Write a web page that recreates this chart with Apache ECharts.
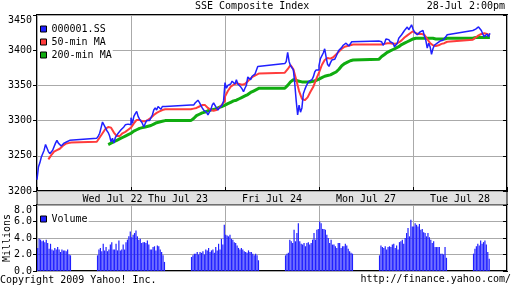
<!DOCTYPE html>
<html><head><meta charset="utf-8">
<script src="https://cdn.jsdelivr.net/npm/echarts@6/dist/echarts.min.js"></script>
<style>html,body{margin:0;padding:0;background:#fff}#c{width:512px;height:288px}</style>
</head><body><div id="c"></div>
<script>
// ---- data ----
const days = ['Wed Jul 22','Thu Jul 23','Fri Jul 24','Mon Jul 27','Tue Jul 28'];
const priceTicks = [3200, 3250, 3300, 3350, 3400, 3450];
const volumeTicks = [0, 2, 4, 6, 8];

// 000001.SS, 5-minute points: 25 morning (9:30-11:30) then afternoon (13:00-15:00)
const price22 = [3216,3234,3240,3248,3250,3258,3266,3264,3256,3253,3254,3258,3260,3268,3272,3268,3266,3264,3262,3268,3268,3270,3270,3272,3273,
                 3275,3278,3282,3290,3298,3296,3290,3286,3283,3278,3270,3275,3268,3276,3279,3282,3284,3287,3289,3291,3294,3296,3295,3293,3294];
const price23 = [3304,3296,3306,3310,3313,3306,3302,3300,3296,3291,3296,3300,3298,3300,3304,3308,3315,3318,3315,3320,3318,3316,3320,3320,3320,
                 3322,3324,3322,3325,3324,3329,3326,3322,3318,3315,3316,3312,3308,3312,3315,3322,3325,3324,3318,3315,3318,3316,3322,3328,3330];
const price24 = [3354,3346,3350,3349,3352,3356,3354,3352,3358,3352,3350,3348,3345,3341,3346,3350,3362,3361,3358,3363,3364,3366,3368,3377,3379,
                 3381,3384,3397,3384,3378,3376,3372,3352,3328,3308,3322,3312,3318,3338,3344,3349,3353,3356,3355,3358,3362,3369,3372,3371,3372];
const price27 = [3378,3388,3386,3396,3402,3390,3380,3377,3382,3386,3388,3387,3391,3396,3400,3402,3404,3407,3405,3410,3408,3406,3408,3412,3412,
                 3413,3414,3412,3407,3410,3416,3417,3415,3412,3414,3410,3405,3403,3410,3417,3419,3422,3424,3428,3430,3433,3429,3428,3436,3430];
const price28 = [3432,3426,3425,3422,3424,3426,3428,3428,3420,3414,3403,3410,3405,3394,3402,3407,3409,3410,3408,3413,3415,3414,3416,3419,3422,
                 3428,3428,3430,3432,3433,3431,3428,3423,3419,3417,3423,3419,3424];

// 50-min MA, 10-minute points: 13 morning then 13 afternoon
const ma50_22 = [null,null,null,null,3245,3251,3256,3258,3260,3264,3267,3268,3269, 3270,3276,3282,3288,3291,3290,3283,3278,3278,3282,3284,3287,3290];
const ma50_23 = [3290,3296,3301,3301,3299,3299,3301,3304,3308,3311,3313,3315,3316, 3316,3317,3318,3320,3322,3322,3318,3315,3314,3315,3318,3323,3328];
const ma50_24 = [3334,3342,3348,3351,3353,3352,3351,3352,3356,3360,3363,3365,3367, 3368,3373,3379,3373,3358,3342,3331,3329,3333,3341,3348,3359,3368];
const ma50_27 = [3368,3379,3386,3389,3388,3390,3394,3398,3402,3405,3406,3407,3408, 3408,3408,3409,3410,3410,3409,3409,3411,3414,3418,3421,3424,3427];
const ma50_28 = [3426,3424,3423,3423,3422,3416,3410,3407,3406,3407,3409,3410,3412, 3415,3418,3421,3423,3424,3423,3421];

// 200-min MA, 10-minute points
const ma200_22 = [null,null,null,null,null,null,null,null,null,null,null,null,null, null,null,null,null,3266,3268,3270,3272,3274,3276,3278,3280,3282];
const ma200_23 = [3283,3285,3287,3289,3290,3291,3292,3293,3295,3297,3298,3299,3300, 3300,3303,3307,3309,3311,3312,3314,3315,3316,3317,3319,3320,3322];
const ma200_24 = [3322,3324,3326,3328,3329,3331,3333,3335,3337,3340,3342,3344,3346, 3346,3350,3355,3358,3357,3356,3355,3355,3355,3355,3356,3357,3359];
const ma200_27 = [3359,3361,3363,3364,3365,3367,3369,3373,3378,3381,3383,3385,3386, 3387,3391,3394,3397,3399,3401,3403,3405,3408,3410,3412,3414,3416];
const ma200_28 = [3417,3417,3417,3417,3417,3417,3417,3417,3416,3416,3416,3416,3417, 3417,3418,3418,3418,3418,3418,3418];

// Volume (millions), 5-minute bars: 24 morning then 24 afternoon
const vol22 = [2.8,3.9,3.8,3.6,3.7,3.5,3.8,3.4,2.7,3.3,2.6,2.5,2.8,2.6,2.9,2.6,2.3,2.6,2.5,2.5,2.4,2.6,2.0,1.9,
               1.9,2.6,2.8,2.4,3.3,2.5,2.9,2.4,2.6,3.2,3.5,2.6,2.6,3.3,2.5,3.7,2.5,2.6,3.2,2.6,3.5,3.8,4.2,4.8];
const vol23 = [4.1,4.4,4.6,4.9,4.2,3.8,3.9,3.4,3.5,3.5,3.4,3.7,3.2,2.6,2.6,2.9,3.0,2.5,3.1,3.0,2.6,2.3,1.9,1.1,
               1.7,1.9,2.1,2.1,2.3,2.0,2.3,2.2,2.4,2.0,2.6,2.5,2.8,2.3,2.5,2.6,2.2,2.9,2.5,3.3,2.6,3.9,3.2,5.6];
const vol24 = [4.4,4.3,4.2,4.4,3.9,3.8,3.5,3.4,3.1,2.8,2.6,2.8,2.6,2.4,2.3,2.2,2.5,2.3,2.3,2.1,1.9,2.1,1.9,1.3,
               1.9,2.1,2.2,3.8,3.6,3.4,5.0,3.6,4.6,5.8,3.6,3.3,3.2,3.4,3.0,3.4,3.5,3.2,3.4,3.8,4.6,3.8,5.0,5.1];
const vol27 = [6.0,5.8,5.1,5.1,5.0,4.4,4.0,3.4,3.8,3.2,3.2,3.0,2.8,3.4,3.4,2.8,3.0,3.0,3.3,3.1,2.7,2.4,2.2,2.1,
               1.9,3.1,2.9,2.8,3.0,2.6,2.9,3.0,2.9,3.2,3.3,2.8,3.1,2.6,3.5,3.6,3.8,3.3,4.0,4.6,5.2,4.2,6.2,5.4];
const vol28 = [5.4,5.8,5.6,5.4,5.7,5.0,5.1,4.7,4.6,4.2,4.6,4.1,3.8,3.4,3.6,2.9,2.9,2.9,2.9,2.1,2.1,2.0,2.9,1.6,
               2.1,2.7,3.0,3.3,3.1,3.7,3.3,3.5,3.7,3.2,2.3,1.5];

// ---- time model: minutes from 9:30 within a 330-minute day axis (lunch 11:30-13:00 kept on axis) ----
const DAY = 330, PM_START = 210;
function build(arrs, step, perSession, offset) {
  const out = [];
  arrs.forEach((a, d) => a.forEach((v, i) => {
    if (v == null) return;
    const t = i < perSession ? i * step : PM_START + (i - perSession) * step;
    out.push([d * DAY + t + offset, v]);
  }));
  return out;
}
const priceData = build([price22, price23, price24, price27, price28], 5, 25, 0);
const ma50Data  = build([ma50_22, ma50_23, ma50_24, ma50_27, ma50_28], 10, 13, 0);
const ma200Data = build([ma200_22, ma200_23, ma200_24, ma200_27, ma200_28], 10, 13, 0);
const volData   = build([vol22, vol23, vol24, vol27, vol28], 5, 24, 2.5);

const FONT = 'DejaVu Sans Mono';
const txt = {fontFamily: FONT, fontSize: 10, color: '#000'};
const GRID = '#aaaaaa';
const BLUE = '#2020ff', RED = '#ff3c3c', GREEN = '#10ac10';
const PMAX = priceTicks[priceTicks.length - 1], VMAX = volumeTicks[volumeTicks.length - 1];
const gridBase = {left: 37, right: 5, show: true, containLabel: false, outerBoundsMode: 'none'};

const chart = echarts.init(document.getElementById('c'), null, {renderer: 'canvas'});
chart.setOption({
  animation: false,
  backgroundColor: '#fff',
  title: [
    {text: 'SSE Composite Index', left: 195, top: 1, padding: 0, textStyle: Object.assign({fontWeight: 'normal'}, txt)},
    {text: '28-Jul 2:00pm', right: 7, top: 1, padding: 0, textStyle: Object.assign({fontWeight: 'normal'}, txt)},
    {text: 'Copyright 2009 Yahoo! Inc.', left: 0, top: 275, padding: 0, textStyle: Object.assign({fontWeight: 'normal'}, txt)},
    {text: 'http://finance.yahoo.com/', right: 1, top: 274, padding: 0, textStyle: Object.assign({fontWeight: 'normal'}, txt)}
  ],
  legend: [
    {data: ['000001.SS', '50-min MA', '200-min MA'], left: 38, top: 16, orient: 'vertical', icon: 'rect',
     itemWidth: 6, itemHeight: 6, itemGap: 1, padding: [7, 1, 3, 2], backgroundColor: '#fff',
     selectedMode: false, textStyle: Object.assign({lineHeight: 12}, txt),
     itemStyle: {borderColor: '#000', borderWidth: 1}},
    {data: ['Volume'], left: 38, top: 206, orient: 'vertical', icon: 'rect',
     itemWidth: 6, itemHeight: 6, padding: [7, 1, 2, 2], backgroundColor: '#fff',
     selectedMode: false, textStyle: Object.assign({lineHeight: 12}, txt),
     itemStyle: {borderColor: '#000', borderWidth: 1}}
  ],
  grid: [
    Object.assign({top: 15, height: 176, backgroundColor: '#fff', borderColor: '#000', borderWidth: 2}, gridBase),
    Object.assign({top: 205, height: 66, backgroundColor: '#fff', borderColor: '#000', borderWidth: 2}, gridBase),
    Object.assign({top: 191, height: 14, backgroundColor: '#e2e2e2', borderColor: '#000', borderWidth: 1}, gridBase)
  ],
  xAxis: [
    {type: 'value', gridIndex: 0, min: 0, max: DAY * days.length, interval: DAY,
     axisLine: {show: false}, axisLabel: {show: false},
     axisTick: {show: true, inside: true, length: 4, lineStyle: {color: '#000'}},
     splitLine: {show: true, lineStyle: {color: GRID, width: 1}}},
    {type: 'value', gridIndex: 1, min: 0, max: DAY * days.length, interval: DAY,
     axisLine: {show: false}, axisLabel: {show: false}, axisTick: {show: false},
     splitLine: {show: true, lineStyle: {color: GRID, width: 1}}},
    {type: 'category', gridIndex: 2, data: days, position: 'bottom', boundaryGap: true,
     axisLine: {show: false}, axisTick: {show: false}, splitLine: {show: false},
     axisLabel: Object.assign({interval: 0, inside: true, margin: 1,
       formatter: (v, i) => i === 0 ? '{w|' + v + '}' : v,
       rich: {w: {fontFamily: FONT, fontSize: 10, color: '#000', padding: [0, 0, 0, 57]}}}, txt)}
  ],
  yAxis: [
    {type: 'value', gridIndex: 0, min: priceTicks[0], max: PMAX, interval: 50, position: 'left',
     axisLine: {show: false}, axisTick: {show: true, length: 4, lineStyle: {color: '#000'}},
     splitLine: {show: true, lineStyle: {color: GRID, width: 1}},
     axisLabel: Object.assign({margin: 5, showMinLabel: true, showMaxLabel: true, hideOverlap: false,
       verticalAlignMaxLabel: 'top', formatter: v => String(v)}, txt)},
    {type: 'value', gridIndex: 0, min: priceTicks[0], max: PMAX, interval: 50, position: 'right',
     axisLine: {show: false}, axisLabel: {show: false}, splitLine: {show: false},
     axisTick: {show: true, inside: true, length: 4, lineStyle: {color: '#000'}}},
    {type: 'value', gridIndex: 1, min: volumeTicks[0], max: VMAX, interval: 2, position: 'left',
     name: 'Millions', nameLocation: 'middle', nameRotate: 90, nameGap: 25, nameMoveOverlap: false,
     nameTextStyle: {fontFamily: FONT, fontSize: 10, color: '#000'},
     axisLine: {show: false}, axisTick: {show: true, length: 4, lineStyle: {color: '#000'}},
     splitLine: {show: true, lineStyle: {color: GRID, width: 1}},
     axisLabel: Object.assign({margin: 5, showMinLabel: true, showMaxLabel: true, hideOverlap: false,
       verticalAlignMaxLabel: 'top', lineHeight: 10,
       formatter: v => v.toFixed(1)}, txt)},
    {type: 'value', gridIndex: 1, min: 0, max: VMAX, interval: 2, position: 'right',
     axisLine: {show: false}, axisLabel: {show: false}, splitLine: {show: false},
     axisTick: {show: true, inside: true, length: 4, lineStyle: {color: '#000'}}},
    {type: 'value', gridIndex: 2, show: false}
  ],
  series: [
    {name: 'Volume', type: 'bar', xAxisIndex: 1, yAxisIndex: 2, data: volData, barWidth: 1.2,
     itemStyle: {color: BLUE}},
    {name: '200-min MA', type: 'line', xAxisIndex: 0, yAxisIndex: 0, data: ma200Data, showSymbol: false,
     color: GREEN, lineStyle: {color: GREEN, width: 3}, itemStyle: {color: GREEN}},
    {name: '50-min MA', type: 'line', xAxisIndex: 0, yAxisIndex: 0, data: ma50Data, showSymbol: false,
     color: RED, lineStyle: {color: RED, width: 2}, itemStyle: {color: RED}},
    {name: '000001.SS', type: 'line', xAxisIndex: 0, yAxisIndex: 0, data: priceData, showSymbol: false,
     color: BLUE, lineStyle: {color: BLUE, width: 1.5}, itemStyle: {color: BLUE}}
  ]
});
</script></body></html>
